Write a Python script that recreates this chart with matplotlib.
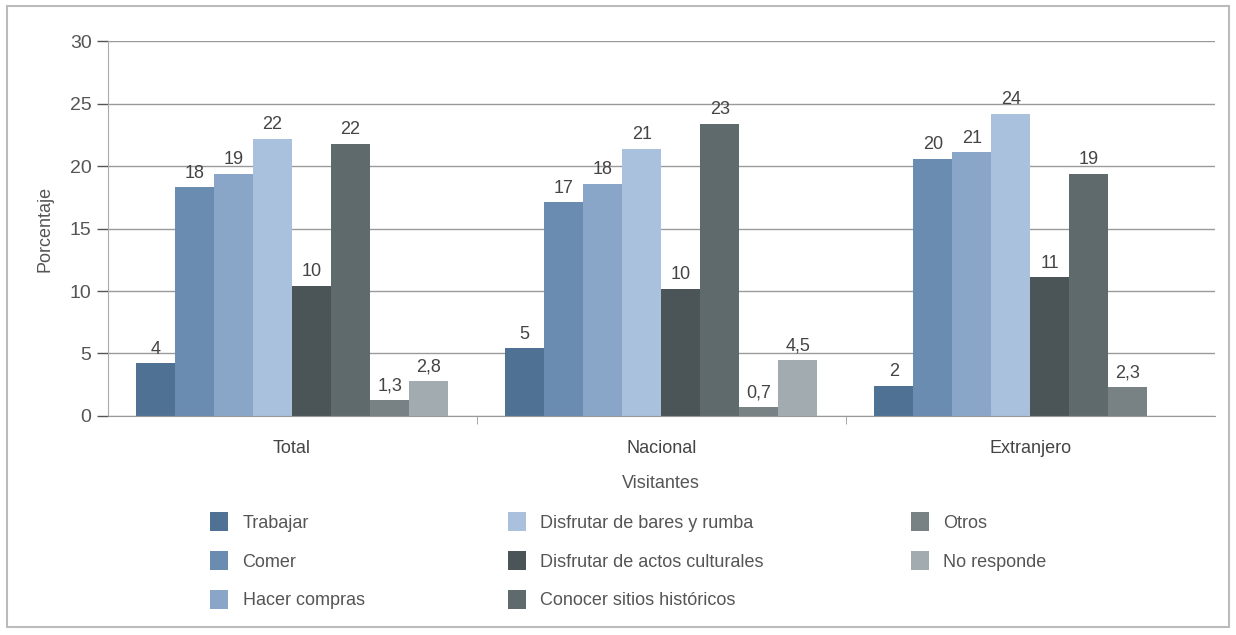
import numpy as np
import matplotlib
matplotlib.use("Agg")
import matplotlib.pyplot as plt
from matplotlib.patches import Rectangle

plt.rcParams['font.family'] = ['Liberation Sans', 'DejaVu Sans']

# Datos
grupos = ['Total', 'Nacional', 'Extranjero']
series = ['Trabajar', 'Comer', 'Hacer compras', 'Disfrutar de bares y rumba',
          'Disfrutar de actos culturales', 'Conocer sitios históricos',
          'Otros', 'No responde']

trabajar = [4.2, 5.4, 2.4]
comer = [18.3, 17.1, 20.6]
compras = [19.4, 18.6, 21.1]
bares = [22.2, 21.4, 24.2]
culturales = [10.4, 10.2, 11.1]
historicos = [21.8, 23.4, 19.4]
otros = [1.3, 0.7, 2.3]
no_responde = [2.8, 4.5, 0]

etq_trabajar = ['4', '5', '2']
etq_comer = ['18', '17', '20']
etq_compras = ['19', '18', '21']
etq_bares = ['22', '21', '24']
etq_culturales = ['10', '10', '11']
etq_historicos = ['22', '23', '19']
etq_otros = ['1,3', '0,7', '2,3']
etq_no_responde = ['2,8', '4,5', '']

valores = [trabajar, comer, compras, bares, culturales, historicos, otros, no_responde]
etiquetas = [etq_trabajar, etq_comer, etq_compras, etq_bares, etq_culturales,
             etq_historicos, etq_otros, etq_no_responde]
colores = ['#4f7194', '#6b8cb1', '#89a5c7', '#a9c1dc',
           '#4b5457', '#5f6a6d', '#788184', '#a2abb0']

fig = plt.figure(figsize=(12.36, 6.35), dpi=100)
ax = fig.add_axes([0.087, 0.345, 0.896, 0.59])

x = np.arange(len(grupos))
ancho = 0.845 / len(series)
barras_todas = []
for i, (vals, etqs, col, nombre) in enumerate(zip(valores, etiquetas, colores, series)):
    pos = x + (i - 3.5) * ancho
    barras = ax.bar(pos, vals, width=ancho, color=col, label=nombre, linewidth=0)
    barras_todas.append(barras)
    for b, t in zip(barras, etqs):
        if t:
            ax.annotate(t, (b.get_x() + b.get_width() / 2, b.get_height()),
                        xytext=(0, 4), textcoords='offset points',
                        ha='center', va='bottom', fontsize=13, color='#444444')

ax.set_xlim(-0.5, 2.5)
ax.set_ylim(0, 30)
ax.set_yticks(range(0, 31, 5))
ax.set_xticks(x)
ax.set_xticklabels(grupos, fontsize=13, color='#444444')
ax.set_xticks([0.5, 1.5], minor=True)
ax.tick_params(axis='x', which='major', length=0, pad=17)
ax.tick_params(axis='x', which='minor', length=6, color='#999999')
ax.tick_params(axis='y', labelsize=14, colors='#555555', length=8, width=1)
ax.yaxis.grid(True, color='#9a9a9a', linewidth=1)
ax.set_axisbelow(True)
for s in ['top', 'right']:
    ax.spines[s].set_visible(False)
ax.spines['left'].set_color('#aaaaaa')
ax.spines['bottom'].set_color('#999999')

ax.set_ylabel('Porcentaje', fontsize=13, color='#555555', labelpad=12)
ax.set_xlabel('Visitantes', fontsize=13, color='#555555', labelpad=13)

# leyenda en tres columnas colocadas a mano
columnas = [(0, 3, 0.170), (3, 6, 0.411), (6, 8, 0.737)]
for ini, fin, xpos in columnas:
    leg = fig.legend([barras_todas[k] for k in range(ini, fin)], series[ini:fin],
                     loc='upper left', bbox_to_anchor=(xpos, 0.194),
                     frameon=False, fontsize=13, labelcolor='#555555',
                     handlelength=1.0, handleheight=1.3, handletextpad=0.8,
                     labelspacing=1.05, borderpad=0, borderaxespad=0)

# marco exterior
fig.patches.append(Rectangle((0.006, 0.012), 0.988, 0.978, transform=fig.transFigure,
                             fill=False, edgecolor='#bbbbbb', linewidth=1.5))

fig.savefig('out.png', dpi=100)
